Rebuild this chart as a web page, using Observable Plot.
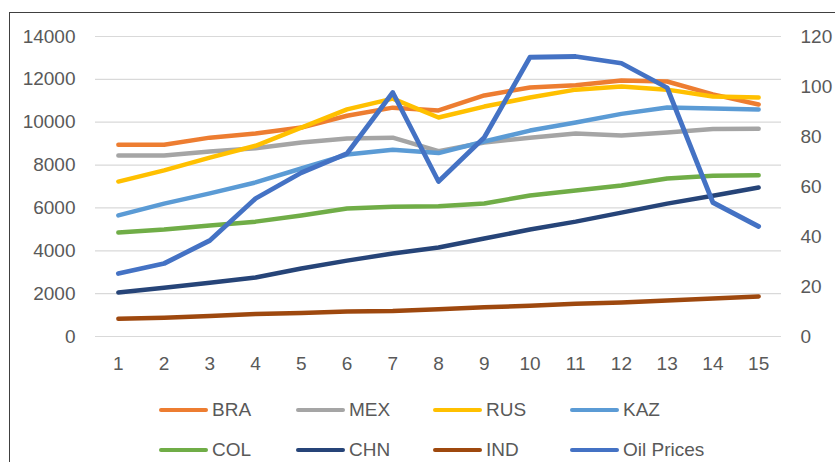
<!DOCTYPE html>
<html>
<head>
<meta charset="utf-8">
<script src="https://cdn.jsdelivr.net/npm/d3@7"></script>
<script src="https://cdn.jsdelivr.net/npm/@observablehq/plot@0.6"></script>
<style>
  html, body { margin: 0; padding: 0; background: #fff; overflow: hidden; width: 835px; height: 462px; }
  #frame { position: absolute; left: 9px; top: 12px; width: 2000px; height: 2000px; border: 1.5px solid #404040; box-sizing: border-box; }
  #chart { position: absolute; left: 0; top: 0; }
  #legend { position: absolute; left: 0; top: 0; width: 835px; height: 462px; pointer-events: none; }
  .item { position: absolute; display: flex; align-items: center; font-family: "Liberation Sans", Arial, sans-serif; font-size: 19px; color: #595959; transform: translateY(-50%); }
  .swatch { width: 49px; height: 4.5px; border-radius: 2px; margin-right: 4px; }
</style>
</head>
<body>
<div id="frame"></div>
<div id="chart"></div>
<div id="legend"></div>
<script>
const periods = [1, 2, 3, 4, 5, 6, 7, 8, 9, 10, 11, 12, 13, 14, 15];
const seriesNames = ["BRA", "MEX", "RUS", "KAZ", "COL", "CHN", "IND", "Oil Prices"];
const seriesColors = ["#ED7D31", "#A5A5A5", "#FFC000", "#5B9BD5", "#70AD47", "#264478", "#9E480E", "#4472C4"];
const BRA = [8950, 8950, 9280, 9470, 9750, 10300, 10680, 10550, 11250, 11620, 11720, 11950, 11900, 11300, 10830];
const MEX = [8450, 8450, 8630, 8780, 9050, 9240, 9280, 8650, 9050, 9280, 9470, 9380, 9520, 9680, 9700];
const RUS = [7230, 7750, 8350, 8900, 9750, 10600, 11100, 10220, 10730, 11150, 11520, 11670, 11520, 11200, 11150];
const KAZ = [5650, 6200, 6680, 7190, 7840, 8490, 8720, 8560, 9100, 9610, 9990, 10390, 10690, 10640, 10590];
const COL = [4850, 4990, 5180, 5360, 5650, 5970, 6060, 6080, 6210, 6580, 6810, 7050, 7370, 7500, 7530];
const CHN = [2050, 2280, 2510, 2750, 3170, 3540, 3870, 4150, 4570, 4990, 5360, 5780, 6200, 6570, 6950];
const IND = [830, 880, 960, 1050, 1100, 1170, 1190, 1270, 1360, 1440, 1530, 1590, 1680, 1770, 1870];
const OIL = [25.2, 29.2, 38.4, 55.2, 65.5, 73.2, 97.6, 62, 79.6, 111.7, 112, 109.3, 99.5, 53.6, 44];
const leftTicks = [0, 2000, 4000, 6000, 8000, 10000, 12000, 14000];
const rightTicks = [0, 20, 40, 60, 80, 100, 120];

const leftMax = 14000, rightMax = 120;
const primary = [BRA, MEX, RUS, KAZ, COL, CHN, IND];
const rows = [];
primary.forEach((arr, i) => arr.forEach((v, j) => rows.push({series: seriesNames[i], x: periods[j], y: v})));
const oilRows = OIL.map((v, j) => ({series: "Oil Prices", x: periods[j], v}));
const toLeft = v => v * leftMax / rightMax;

const font = '"Liberation Sans", Arial, sans-serif';
const plot = Plot.plot({
  width: 835,
  height: 390,
  marginLeft: 95,
  marginRight: 54,
  marginTop: 36,
  marginBottom: 54,
  style: {fontFamily: font, fontSize: "19px", color: "#595959", background: "transparent"},
  x: {domain: [0.5, 15.5], label: null},
  y: {domain: [0, leftMax], label: null},
  color: {domain: seriesNames, range: seriesColors},
  marks: [
    Plot.gridY(leftTicks, {stroke: "#D9D9D9", strokeOpacity: 1, strokeWidth: 1.2}),
    Plot.axisY(leftTicks, {anchor: "left", tickSize: 0, tickPadding: 20, label: null, tickFormat: d => String(d), fill: "#595959"}),
    Plot.axisY(rightTicks.map(toLeft), {anchor: "right", tickSize: 0, tickPadding: 19, label: null, tickFormat: d => String(Math.round(d * rightMax / leftMax)), fill: "#595959"}),
    Plot.axisX(periods, {anchor: "bottom", tickSize: 0, tickPadding: 20, label: null, tickFormat: d => String(d), fill: "#595959"}),
    ...seriesNames.slice(0, 7).map(name =>
      Plot.line(rows.filter(r => r.series === name), {x: "x", y: "y", stroke: "series", strokeWidth: 4.5, strokeLinecap: "round", strokeLinejoin: "round"})
    ),
    Plot.line(oilRows, {x: "x", y: d => toLeft(d.v), stroke: "series", strokeWidth: 4.8, strokeLinecap: "round", strokeLinejoin: "round"})
  ]
});
document.getElementById("chart").appendChild(plot);

// Legend (HTML, below the SVG)
const legend = document.getElementById("legend");
const colX = [159, 296, 433, 570];
const rowY = [410, 450];
seriesNames.forEach((name, i) => {
  const item = document.createElement("div");
  item.className = "item";
  item.style.left = colX[i % 4] + "px";
  item.style.top = rowY[Math.floor(i / 4)] + "px";
  const sw = document.createElement("div");
  sw.className = "swatch";
  sw.style.background = seriesColors[i];
  const label = document.createElement("span");
  label.textContent = name;
  item.appendChild(sw);
  item.appendChild(label);
  legend.appendChild(item);
});
</script>
</body>
</html>
